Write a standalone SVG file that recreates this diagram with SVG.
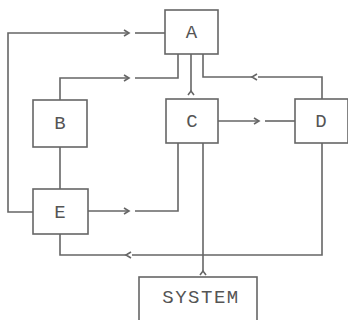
<svg xmlns="http://www.w3.org/2000/svg" width="348" height="320" viewBox="0 0 348 320">
<style>
.box{fill:#fff;stroke:#666;stroke-width:1.6}
.ln{fill:none;stroke:#666;stroke-width:1.6}
.ch{fill:none;stroke:#666;stroke-width:1.6;stroke-linejoin:miter}
text{font-family:"Liberation Mono","DejaVu Sans Mono",monospace;font-size:19px;fill:#555;text-anchor:middle}
.sys{letter-spacing:1.5px}
</style>
<rect width="348" height="320" fill="#fff"/>
<g id="connectors">
  <!-- E left loop to A -->
  <polyline class="ln" points="33,212 8,212 8,33 129,33"/>
  <line class="ln" x1="135" y1="33" x2="165" y2="33"/>
  <polyline class="ch" points="124,30 129,33 124,36"/>
  <!-- B to A -->
  <polyline class="ln" points="60,100 60,78 129,78"/>
  <polyline class="ln" points="135,78 178,78 178,54"/>
  <polyline class="ch" points="124,75 129,78 124,81"/>
  <!-- A to C -->
  <line class="ln" x1="191" y1="54" x2="191" y2="92"/>
  <polyline class="ch" points="188,95 191,91 194,95"/>
  <!-- D to A -->
  <polyline class="ln" points="322,99 322,77 258,77"/>
  <polyline class="ln" points="252,77 203,77 203,54"/>
  <polyline class="ch" points="257,74 252,77 257,80"/>
  <!-- C to D -->
  <line class="ln" x1="218" y1="121" x2="259" y2="121"/>
  <line class="ln" x1="265" y1="121" x2="295" y2="121"/>
  <polyline class="ch" points="254,118 259,121 254,124"/>
  <!-- B to E -->
  <line class="ln" x1="60" y1="147" x2="60" y2="189"/>
  <!-- E to C -->
  <line class="ln" x1="88" y1="211" x2="129" y2="211"/>
  <polyline class="ln" points="135,211 178,211 178,143"/>
  <polyline class="ch" points="124,208 129,211 124,214"/>
  <!-- C to SYSTEM -->
  <line class="ln" x1="203" y1="143" x2="203" y2="272"/>
  <polyline class="ch" points="200,275 203,271 206,275"/>
  <!-- D to E -->
  <polyline class="ln" points="322,143 322,255 132,255"/>
  <polyline class="ln" points="126,255 60,255 60,234"/>
  <polyline class="ch" points="131,252 126,255 131,258"/>
</g>
<g id="A"><rect class="box" x="165" y="10" width="53" height="44"/><text x="191.5" y="38">A</text></g>
<g id="B"><rect class="box" x="33" y="100" width="54" height="47"/><text x="60" y="129">B</text></g>
<g id="C"><rect class="box" x="166" y="99" width="52" height="44"/><text x="192" y="127">C</text></g>
<g id="D"><rect class="box" x="295" y="99" width="53" height="44"/><text x="321" y="127">D</text></g>
<g id="E"><rect class="box" x="33" y="189" width="55" height="45"/><text x="60" y="218">E</text></g>
<g id="SYSTEM"><rect class="box" x="139" y="277" width="118" height="60"/><text class="sys" x="201" y="303">SYSTEM</text></g>
</svg>
